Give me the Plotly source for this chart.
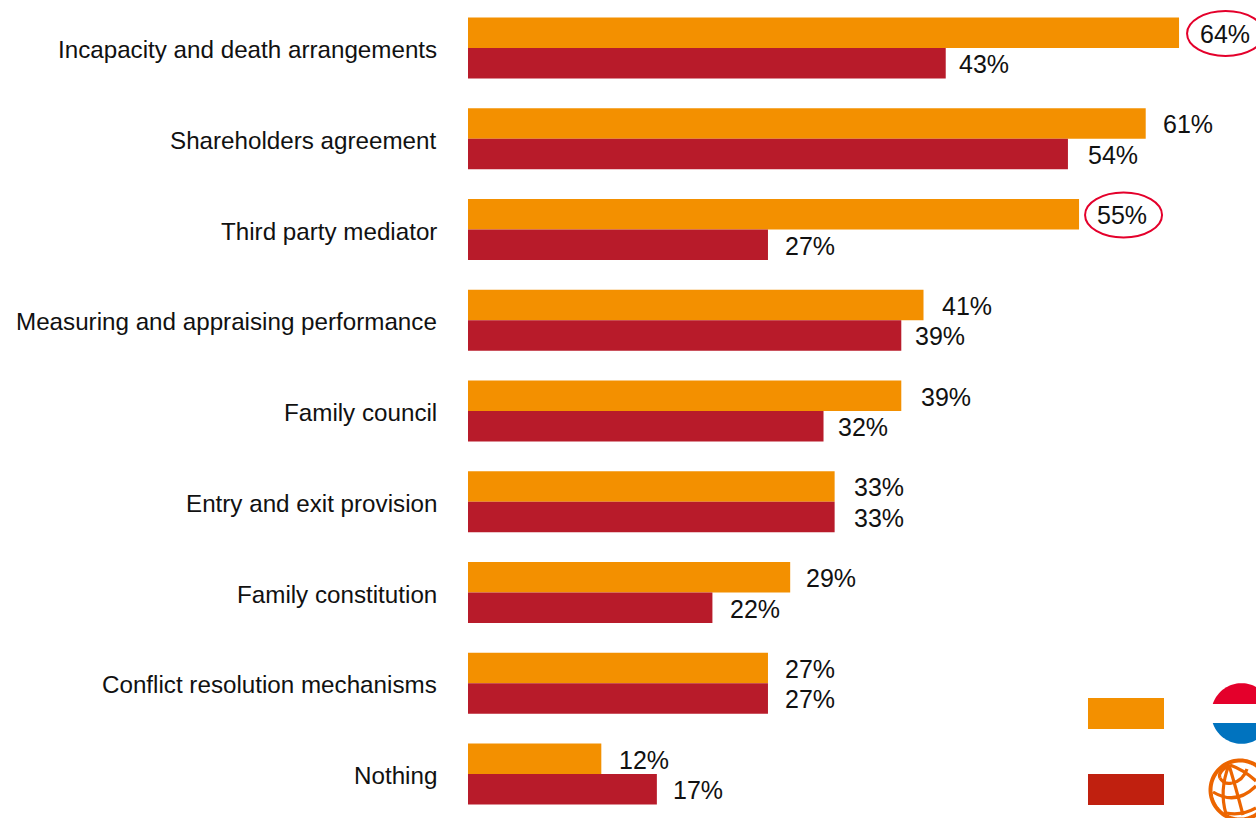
import numpy as np
import plotly.graph_objects as go

categories = [
    "Incapacity and death arrangements",
    "Shareholders agreement",
    "Third party mediator",
    "Measuring and appraising performance",
    "Family council",
    "Entry and exit provision",
    "Family constitution",
    "Conflict resolution mechanisms",
    "Nothing",
]
netherlands = [64, 61, 55, 41, 39, 33, 29, 27, 12]
global_avg = [43, 54, 27, 39, 32, 33, 22, 27, 17]

# Gap in pixels between a bar end and its value label
netherlands_gaps = [18.5, 15.5, 15.5, 16.5, 18, 17, 13.5, 15.5, 15.5]
global_gaps = [11.5, 18.5, 15.5, 11.5, 12.5, 17, 15.5, 15.5, 14.5]

# Labels that get a red ring, with the ring's left offset from the bar end
ringed = [0, 2]
ring_left = [8, 6]

WIDTH, HEIGHT = 1256, 818
BAR_LEFT = 468
PX_PER_UNIT = 11.11
ROW_STEP = 90.75
FIRST_ROW = 48

ORANGE = "#F39000"
RED = "#B81B2A"
KEY_RED = "#C0200F"
RING = "#E4002B"
FLAG_BLUE = "#0073BF"
GLOBE = "#EC6500"
INK = "#111111"
FONT = "Liberation Sans"


def px(x):
    return x / WIDTH


def py(y):
    return 1 - y / HEIGHT


def path(points, close=False):
    body = "L".join(f"{px(x):.5f},{py(y):.5f}" for x, y in points)
    return "M" + body + ("Z" if close else "")


def curve(a, ctrl, b):
    return (f"M{px(a[0]):.5f},{py(a[1]):.5f}"
            f"Q{px(ctrl[0]):.5f},{py(ctrl[1]):.5f} {px(b[0]):.5f},{py(b[1]):.5f}")


def arc(cx, cy, rx, ry, start, stop, n=40):
    t = np.radians(np.linspace(start, stop, n))
    return list(zip(cx + rx * np.cos(t), cy + ry * np.sin(t)))


fig = go.Figure()
fig.add_bar(y=categories, x=netherlands, orientation="h", marker_color=ORANGE, marker_line_width=0)
fig.add_bar(y=categories, x=global_avg, orientation="h", marker_color=RED, marker_line_width=0)

annotations = []
for i, cat in enumerate(categories):
    annotations.append(dict(
        x=0, y=cat, xref="x", yref="y", text=cat, showarrow=False,
        xanchor="right", yanchor="middle", xshift=-28.5, yshift=-1.5,
        font=dict(family=FONT, size=24.2, color=INK),
    ))
    for values, gaps, shift in ((netherlands, netherlands_gaps, 14.5), (global_avg, global_gaps, -16)):
        annotations.append(dict(
            x=values[i], y=cat, xref="x", yref="y", text=f"{values[i]}%", showarrow=False,
            xanchor="left", yanchor="middle", xshift=gaps[i], yshift=shift,
            font=dict(family=FONT, size=25, color=INK),
        ))

shapes = []
for i, left in zip(ringed, ring_left):
    shapes.append(dict(
        type="circle", xref="x", yref="y", xsizemode="pixel", ysizemode="pixel",
        xanchor=netherlands[i], yanchor=categories[i],
        x0=left, x1=left + 77, y0=-8, y1=37, line=dict(color=RING, width=2), fillcolor="rgba(0,0,0,0)",
    ))


def paper_shape(d, **style):
    shapes.append(dict(type="path", xref="paper", yref="paper", path=d, layer="above", **style))


no_line = dict(width=0)

# Colour key swatches
for top, colour in ((698, ORANGE), (774, KEY_RED)):
    paper_shape(path([(1088, top), (1164, top), (1164, top + 31), (1088, top + 31)], True),
                fillcolor=colour, line=no_line)

# Flag roundel: top and bottom caps of a circle, white band left empty
FLAG_X, FLAG_Y, FLAG_R = 1241.5, 713.5, 30.3
cap = np.degrees(np.arcsin(9.5 / FLAG_R))
paper_shape(path(arc(FLAG_X, FLAG_Y, FLAG_R, FLAG_R, 180 + cap, 360 - cap), True), fillcolor=RING, line=no_line)
paper_shape(path(arc(FLAG_X, FLAG_Y, FLAG_R, FLAG_R, cap, 180 - cap), True), fillcolor=FLAG_BLUE, line=no_line)

# Globe outline, polar loop, meridians and parallels
thick = dict(color=GLOBE, width=4)
thin = dict(color=GLOBE, width=3.2)
paper_shape(path(arc(1240, 790, 29.5, 29.5, 0, 360, 90), True), line=thick)
globe_curves = [
    ((1230, 765), (1217, 772), (1220, 778)),
    ((1220, 778), (1224, 785), (1232, 783)),
    ((1232, 783), (1243, 781), (1247, 769)),
    ((1213, 792), (1236, 806), (1256, 786)),
    ((1230, 765), (1244, 770), (1256, 781)),
    ((1229, 765), (1219, 790), (1226, 814)),
    ((1229, 765), (1236, 788), (1243, 815)),
    ((1226, 813), (1242, 816), (1256, 808)),
]
for a, ctrl, b in globe_curves:
    paper_shape(curve(a, ctrl, b), line=thin)

fig.update_layout(
    width=WIDTH, height=HEIGHT, autosize=False,
    margin=dict(l=0, r=0, t=0, b=0, pad=0),
    paper_bgcolor="white", plot_bgcolor="white",
    barmode="group", bargap=0.328, bargroupgap=0,
    showlegend=False,
    annotations=annotations, shapes=shapes,
    xaxis=dict(
        domain=[BAR_LEFT / WIDTH, 1],
        range=[0, (WIDTH - BAR_LEFT) / PX_PER_UNIT],
        visible=False,
    ),
    yaxis=dict(
        type="category", categoryorder="array", categoryarray=categories,
        range=[(HEIGHT - FIRST_ROW) / ROW_STEP, -FIRST_ROW / ROW_STEP],
        showgrid=False, zeroline=False, showline=False, ticks="", showticklabels=False,
    ),
)

fig.write_html("out.html", config=dict(displayModeBar=False))
